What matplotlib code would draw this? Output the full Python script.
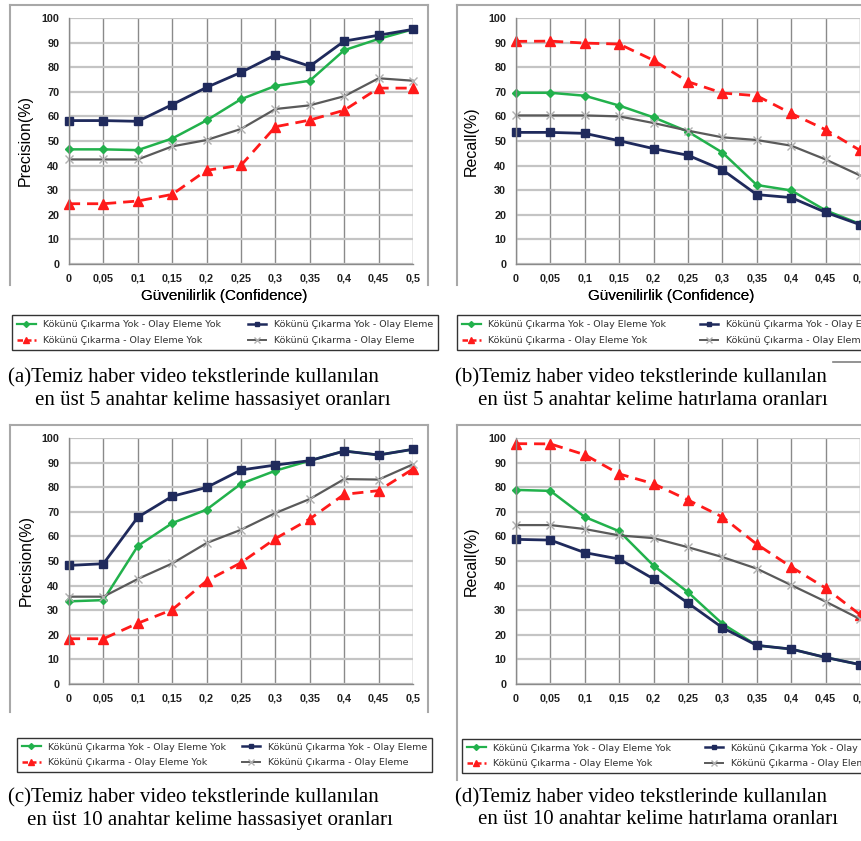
import matplotlib
matplotlib.use("Agg")
import matplotlib.pyplot as plt
from matplotlib.lines import Line2D

W, H = 861, 841

# x axis: confidence thresholds
conf = [0, 0.05, 0.1, 0.15, 0.2, 0.25, 0.3, 0.35, 0.4, 0.45, 0.5]
conf_labels = ["0", "0,05", "0,1", "0,15", "0,2", "0,25", "0,3", "0,35", "0,4", "0,45", "0,5"]

series_names = [
    "Kökünü Çıkarma Yok - Olay Eleme Yok",
    "Kökünü Çıkarma Yok - Olay Eleme",
    "Kökünü Çıkarma - Olay Eleme Yok",
    "Kökünü Çıkarma - Olay Eleme",
]

# (a) top 5 precision
a_green = [46.6, 46.6, 46.3, 51.0, 58.4, 67.0, 72.4, 74.5, 86.9, 91.5, 95.4]
a_navy = [58.3, 58.3, 58.0, 64.8, 71.8, 77.9, 85.0, 80.4, 90.6, 93.0, 95.4]
a_red = [24.5, 24.5, 25.6, 28.3, 38.1, 40.1, 55.8, 58.5, 62.5, 71.5, 71.5]
a_gray = [42.5, 42.5, 42.5, 47.8, 50.4, 54.9, 63.0, 64.5, 68.2, 75.5, 74.5]

# (b) top 5 recall
b_green = [69.6, 69.6, 68.4, 64.4, 59.6, 53.8, 45.3, 32.1, 29.9, 21.8, 16.3]
b_navy = [53.5, 53.5, 53.1, 50.1, 46.9, 44.2, 38.3, 28.2, 27.0, 21.0, 16.0]
b_red = [90.5, 90.6, 89.8, 89.4, 82.8, 74.1, 69.5, 68.4, 61.2, 54.6, 46.2]
b_gray = [60.4, 60.4, 60.4, 60.0, 57.3, 54.2, 51.5, 50.4, 48.1, 42.5, 36.0]

# (c) top 10 precision
c_green = [33.6, 34.1, 56.1, 65.4, 70.9, 81.4, 86.7, 90.8, 94.7, 93.1, 95.4]
c_navy = [48.2, 48.9, 67.8, 76.3, 79.9, 87.0, 89.0, 90.8, 94.7, 93.1, 95.4]
c_red = [18.4, 18.4, 24.7, 30.2, 41.9, 49.3, 59.1, 67.1, 77.1, 78.6, 87.4]
c_gray = [35.5, 35.5, 42.7, 49.0, 57.3, 62.7, 69.5, 75.2, 83.3, 83.1, 89.3]

# (d) top 10 recall
d_green = [78.9, 78.5, 67.9, 62.1, 48.1, 37.3, 24.5, 15.7, 14.2, 10.8, 7.9]
d_navy = [58.8, 58.5, 53.4, 50.8, 42.7, 32.9, 22.9, 15.7, 14.2, 10.8, 7.9]
d_red = [97.7, 97.6, 93.2, 85.4, 81.4, 74.8, 67.9, 56.8, 47.6, 39.0, 28.2]
d_gray = [64.6, 64.6, 63.0, 60.4, 59.3, 55.6, 51.6, 46.9, 40.2, 33.5, 26.4]

captions = [
    ["(a)Temiz haber video tekstlerinde kullanılan", "en üst 5 anahtar kelime hassasiyet oranları"],
    ["(b)Temiz haber video tekstlerinde kullanılan", "en üst 5 anahtar kelime hatırlama oranları"],
    ["(c)Temiz haber video tekstlerinde kullanılan", "en üst 10 anahtar kelime hassasiyet oranları"],
    ["(d)Temiz haber video tekstlerinde kullanılan", "en üst 10 anahtar kelime hatırlama oranları"],
]
ylabels = ["Precision(%)", "Recall(%)", "Precision(%)", "Recall(%)"]
xlabel = "Güvenilirlik (Confidence)"

GREEN = "#22b14c"
NAVY = "#1f2a5c"
RED = "#ff1a1a"
GRAY = "#5a5a5a"


def fx(x):
    return x / W


def fy(y):
    return 1 - y / H


fig = plt.figure(figsize=(W / 100, H / 100), dpi=100)
fig.patch.set_facecolor("white")

# panel layout in pixels: plot left, right, top, bottom
panels = [
    dict(rect=(69, 413, 18, 264), data=(a_green, a_navy, a_red, a_gray),
         frame=(10, 428, 5, 285), leg=(12, 438, 312, 353), cap=(8, 35, 378, 400), ylab=33),
    dict(rect=(516, 860, 18, 264), data=(b_green, b_navy, b_red, b_gray),
         frame=(457, 900, 5, 285), leg=(457, 890, 313, 352), cap=(455, 478, 378, 400), ylab=479),
    dict(rect=(69, 413, 438, 684), data=(c_green, c_navy, c_red, c_gray),
         frame=(10, 428, 425, 712), leg=(17, 432, 733, 777), cap=(8, 27, 798, 820), ylab=34),
    dict(rect=(516, 860, 438, 684), data=(d_green, d_navy, d_red, d_gray),
         frame=(457, 900, 425, 780), leg=(462, 895, 733, 779), cap=(455, 478, 798, 820), ylab=479),
]

# legend handles (short line + marker, like the Excel legend keys)
leg_handles = [
    Line2D([], [], color=GREEN, lw=1.6, marker="D", ms=3),
    Line2D([], [], color=RED, lw=1.8, ls=(0, (2.2, 1.2)), marker="^", ms=4),
    Line2D([], [], color=NAVY, lw=1.8, marker="s", ms=3.5),
    Line2D([], [], color=GRAY, lw=1.4, marker="x", ms=4, mec="#b0b0b0"),
]
leg_labels = [series_names[0], series_names[2], series_names[1], series_names[3]]

for i, p in enumerate(panels):
    l, r, t, b = p["rect"]
    ax = fig.add_axes([fx(l), fy(b), fx(r) - fx(l), fy(t) - fy(b)])
    ax.set_xlim(0, 0.5)
    ax.set_ylim(0, 100)
    ax.set_xticks(conf)
    ax.set_xticklabels(conf_labels)
    ax.set_yticks(range(0, 101, 10))
    ax.tick_params(length=0, labelsize=7.8, pad=7)
    for lab in ax.get_xticklabels() + ax.get_yticklabels():
        lab.set_fontweight("bold")
        lab.set_family("Liberation Sans")
        lab.set_color("#202020")
    ax.xaxis.grid(True, color="#8a8a8a", lw=1.0)
    ax.yaxis.grid(True, color="#c4c4c4", lw=1.6)
    ax.set_axisbelow(True)
    for s in ["top", "right"]:
        ax.spines[s].set_visible(False)
    for s in ["left", "bottom"]:
        ax.spines[s].set_color("#8a8a8a")
        ax.spines[s].set_linewidth(1.0)

    g, n, rd, gr = p["data"]
    ax.plot(conf, g, color=GREEN, lw=1.8, marker="D", ms=4.5, clip_on=False)
    ax.plot(conf, n, color=NAVY, lw=2.0, marker="s", ms=5.5, clip_on=False)
    ax.plot(conf, rd, color=RED, lw=2.0, ls=(0, (4, 2.5)), marker="^", ms=6.5, clip_on=False)
    ax.plot(conf, gr, color=GRAY, lw=1.6, marker="x", ms=6, mec="#b0b0b0", mew=1.0, clip_on=False)

    ax.set_ylabel(ylabels[i], family="Liberation Sans", fontsize=11.5)
    ax.yaxis.set_label_coords((p["ylab"] - l) / (r - l), 0.5)
    ax.set_xlabel(xlabel, family="Liberation Sans", fontsize=11)
    ax.xaxis.set_label_coords(0.45, (b - 289) / (b - t))

    # chart frame (light gray)
    x0, x1, y0, y1 = p["frame"]
    for xs, ys in [((x0, x0), (y0, y1)), ((x0, x1), (y0, y0)), ((x1, x1), (y0, y1))]:
        fig.add_artist(Line2D([fx(v) for v in xs], [fy(v) for v in ys],
                              color="#a8a8a8", lw=1.5))

    # legend
    lx0, lx1, ly0, ly1 = p["leg"]
    leg = fig.legend(leg_handles, leg_labels,
                     ncol=2, loc="center", mode="expand", borderaxespad=0,
                     bbox_to_anchor=(fx(lx0), fy(ly1), fx(lx1) - fx(lx0), fy(ly0) - fy(ly1)),
                     prop={"family": "DejaVu Sans", "size": 6.8}, frameon=True, fancybox=False,
                     edgecolor="black", handlelength=2.0, handletextpad=0.8, borderpad=0.5,
                     labelspacing=0.7, columnspacing=0.8)
    leg.get_frame().set_linewidth(1.0)
    for txt in leg.get_texts():
        txt.set_color("#303030")

    # caption
    c1x, c2x, c1y, c2y = p["cap"]
    fig.text(fx(c1x), fy(c1y), captions[i][0], family="Liberation Serif", fontsize=15,
             ha="left", va="center")
    fig.text(fx(c2x), fy(c2y), captions[i][1], family="Liberation Serif", fontsize=15,
             ha="left", va="center")

# small stray rule under legend (b)
fig.add_artist(Line2D([fx(833), fx(861)], [fy(362), fy(362)], color="#808080", lw=1.2))

fig.savefig("out.png", dpi=100)
